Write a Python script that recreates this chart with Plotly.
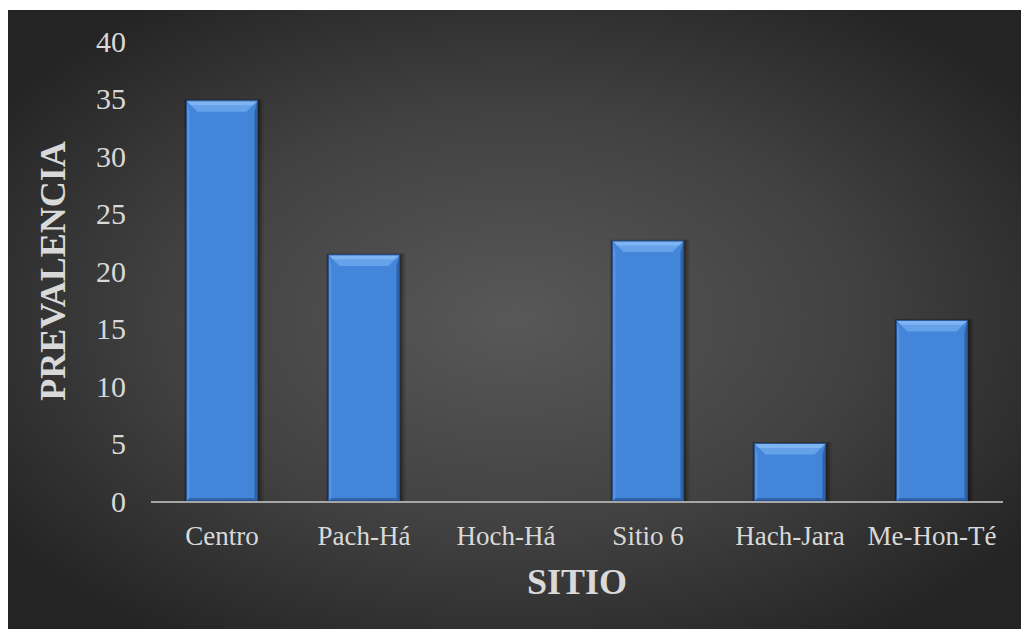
import base64
import plotly.graph_objects as go

# Prevalence by site
sitios = ["Centro", "Pach-Há", "Hoch-Há", "Sitio 6", "Hach-Jara", "Me-Hon-Té"]
prevalencia = [34.8, 21.4, 0, 22.6, 5.0, 15.7]
y_ticks = [0, 5, 10, 15, 20, 25, 30, 35, 40]

W, H = 1021, 629
L, R, T, B = 151, 18, 41, 128
plot_w = W - L - R
plot_h = H - T - B
y_max = 40
bar_half = 0.25          # bargap 0.5 -> bar spans half the category
px_x = plot_w / len(sitios)   # pixels per category unit
px_y = plot_h / y_max         # pixels per value unit

text_col = "#d9d9d9"
serif = "Liberation Serif, Times New Roman, serif"

fig = go.Figure()
fig.add_trace(go.Bar(
    x=list(range(len(sitios))), y=prevalencia,
    width=2 * bar_half,
    marker=dict(color="#4385d8",
                line=dict(color="#2b5d9f", width=[1 if v > 0 else 0 for v in prevalencia])),
    hoverinfo="x+y",
))

shapes = []
bev_px = 11
by = bev_px / px_y
side_px = 3
sx = side_px / px_x
sy = side_px / px_y
for i, v in enumerate(prevalencia):
    if v <= 0:
        continue
    x0, x1 = i - bar_half, i + bar_half
    # soft shadow around the bar
    for k, op in [(6, 0.10), (4, 0.16), (2, 0.25)]:
        shapes.append(dict(
            type="rect", layer="below", xref="x", yref="y",
            x0=x0 - k * 0.4 / px_x, x1=x1 + k / px_x,
            y0=0, y1=v + k * 0.3 / px_y,
            fillcolor=f"rgba(0,0,0,{op})", line=dict(width=0)))
    bh = min(by, v * 0.45)
    bxx = bh * px_y / px_x
    # top bevel
    shapes.append(dict(
        type="path", xref="x", yref="y",
        path=f"M {x0},{v} L {x1},{v} L {x1 - bxx},{v - bh} L {x0 + bxx},{v - bh} Z",
        fillcolor="#65a2ea", line=dict(width=0)))
    shapes.append(dict(
        type="path", xref="x", yref="y",
        path=f"M {x0},{v} L {x1},{v} L {x1 - bxx * 0.4},{v - bh * 0.4} L {x0 + bxx * 0.4},{v - bh * 0.4} Z",
        fillcolor="rgba(150,195,248,0.55)", line=dict(width=0)))
    # left highlight strip
    shapes.append(dict(
        type="path", xref="x", yref="y",
        path=f"M {x0},{v} L {x0 + sx},{v - bh} L {x0 + sx},{sy} L {x0},0 Z",
        fillcolor="rgba(110,165,235,0.45)", line=dict(width=0)))
    # right dark strip
    shapes.append(dict(
        type="path", xref="x", yref="y",
        path=f"M {x1},{v} L {x1 - sx},{v - bh} L {x1 - sx},{sy} L {x1},0 Z",
        fillcolor="rgba(30,70,130,0.55)", line=dict(width=0)))
    # bottom dark strip
    shapes.append(dict(
        type="path", xref="x", yref="y",
        path=f"M {x0},0 L {x1},0 L {x1 - sx},{sy} L {x0 + sx},{sy} Z",
        fillcolor="rgba(30,70,130,0.5)", line=dict(width=0)))
    # edge outline
    shapes.append(dict(
        type="rect", xref="x", yref="y", x0=x0, x1=x1, y0=0, y1=v,
        fillcolor="rgba(0,0,0,0)", line=dict(color="rgba(35,80,145,0.9)", width=1)))

# radial gradient backdrop for the chart area
bg_left, bg_top = 8, 10
svg = f"""<svg xmlns='http://www.w3.org/2000/svg' width='{W - bg_left}' height='{H - bg_top}' preserveAspectRatio='none' viewBox='0 0 {W - bg_left} {H - bg_top}'>
<defs><radialGradient id='g' cx='50%' cy='50%' r='62%'>
<stop offset='0' stop-color='#585858'/>
<stop offset='0.55' stop-color='#414141'/>
<stop offset='1' stop-color='#242424'/>
</radialGradient></defs>
<rect width='100%' height='100%' fill='url(#g)'/></svg>"""
src = "data:image/svg+xml;base64," + base64.b64encode(svg.encode()).decode()

img_x = (bg_left - L) / plot_w
img_y = (H - B - bg_top) / plot_h
img_sx = (W - bg_left) / plot_w
img_sy = (H - bg_top) / plot_h

fig.update_layout(
    width=W, height=H,
    margin=dict(l=L, r=R, t=T, b=B, pad=0),
    paper_bgcolor="white",
    plot_bgcolor="rgba(0,0,0,0)",
    showlegend=False,
    bargap=0.5,
    shapes=shapes,
    images=[dict(source=src, xref="paper", yref="paper", x=img_x, y=img_y,
                 sizex=img_sx, sizey=img_sy, xanchor="left", yanchor="top",
                 sizing="stretch", layer="below")],
    font=dict(family=serif, color=text_col),
)
fig.update_xaxes(
    tickmode="array", tickvals=list(range(len(sitios))), ticktext=sitios,
    range=[-0.5, len(sitios) - 0.5],
    showgrid=False, zeroline=False,
    showline=True, linecolor="#a6a6a6", linewidth=2,
    ticks="", tickfont=dict(family=serif, size=27, color=text_col),
    ticklabelstandoff=10,
    title=dict(text="<b>SITIO</b>", font=dict(family=serif, size=36, color=text_col),
               standoff=18),
)
fig.update_yaxes(
    range=[0, y_max], tickvals=y_ticks,
    showgrid=False, zeroline=False, showline=False,
    ticks="", tickfont=dict(family=serif, size=30, color=text_col),
    ticklabelstandoff=24,
    title=dict(text="<b>PREVALENCIA</b>", font=dict(family=serif, size=36, color=text_col),
               standoff=19),
)

fig.write_html("out.html")
